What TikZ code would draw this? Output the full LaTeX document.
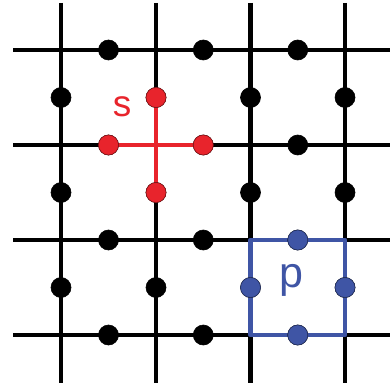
\documentclass[tikz,border=0pt]{standalone}
\usepackage{fontspec}
\setmainfont{Liberation Sans}
\usetikzlibrary{calc}
\definecolor{starred}{HTML}{E8242C}
\definecolor{plaqblue}{HTML}{3F55A5}
\tikzset{
  x=1pt, y=-1pt,
  bond/.style={line width=4.5pt, black},
  spin/.style={circle, inner sep=0pt, minimum size=20pt, fill=black, draw=black, line width=0.6pt},
  redspin/.style={spin, fill=starred, draw=starred!60!black},
  bluespin/.style={spin, fill=plaqblue, draw=plaqblue!60!black},
  starline/.style={line width=4.5pt, starred},
  plaqline/.style={line width=4.5pt, plaqblue, line join=round},
}
\begin{document}
\begin{tikzpicture}
  \useasboundingbox (0,0) rectangle (390,390);
  % lattice vertices
  \foreach \i/\x in {0/61,1/156,2/250.5,3/345}{
    \foreach \j/\y in {0/50,1/145,2/240,3/335}{
      \coordinate (c-\i-\j) at (\x,\y);
    }
  }
  % open ends of the lattice lines
  \foreach \i/\x in {0/61,1/156,2/250.5,3/345}{
    \coordinate (top-\i) at (\x,3);
    \coordinate (bot-\i) at (\x,383);
  }
  \foreach \j/\y in {0/50,1/145,2/240,3/335}{
    \coordinate (lft-\j) at (13,\y);
    \coordinate (rgt-\j) at (390,\y);
  }
  % link midpoints
  \foreach \i/\k in {0/1,1/2,2/3}{
    \foreach \j in {0,...,3}{
      \coordinate (hm-\i-\j) at ($(c-\i-\j)!0.5!(c-\k-\j)$);
    }
  }
  \foreach \i in {0,...,3}{
    \foreach \j/\k in {0/1,1/2,2/3}{
      \coordinate (vm-\i-\j) at ($(c-\i-\j)!0.5!(c-\i-\k)$);
    }
  }
  % lattice lines
  \foreach \i in {0,...,3}{ \draw[bond] (top-\i) -- (bot-\i); }
  \foreach \j in {0,...,3}{ \draw[bond] (lft-\j) -- (rgt-\j); }
  % star operator
  \draw[starline] (hm-0-1) -- (hm-1-1);
  \draw[starline] (vm-1-0) -- (vm-1-1);
  % plaquette operator
  \draw[plaqline] (c-2-2) rectangle (c-3-3);
  % spins on the links
  \foreach \i in {0,1,2}{
    \foreach \j in {0,...,3}{
      \node[spin] (h-\i-\j) at (hm-\i-\j) {};
    }
  }
  \foreach \i in {0,...,3}{
    \foreach \j in {0,1,2}{
      \node[spin] (v-\i-\j) at (vm-\i-\j) {};
    }
  }
  % coloured spins
  \node[redspin] (sA) at (hm-0-1) {};
  \node[redspin] (sB) at (hm-1-1) {};
  \node[redspin] (sC) at (vm-1-0) {};
  \node[redspin] (sD) at (vm-1-1) {};
  \node[bluespin] (pA) at (hm-2-2) {};
  \node[bluespin] (pB) at (hm-2-3) {};
  \node[bluespin] (pC) at (vm-2-2) {};
  \node[bluespin] (pD) at (vm-3-2) {};
  % labels
  \node[anchor=base, text=starred, font=\fontsize{37}{37}\selectfont, inner sep=0pt] (slabel) at (122,117) {s};
  \node[anchor=base, text=plaqblue, font=\fontsize{43}{43}\selectfont, inner sep=0pt] (plabel) at (291,287) {p};
\end{tikzpicture}
\end{document}
